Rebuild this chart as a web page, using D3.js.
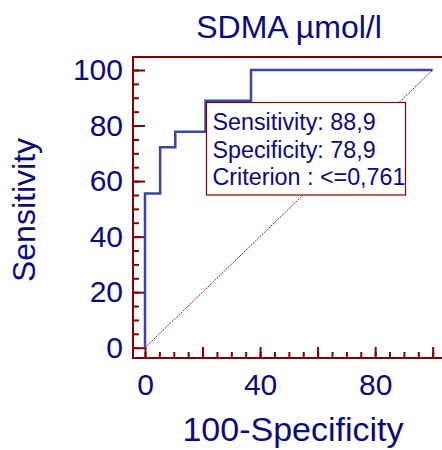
<!DOCTYPE html>
<html>
<head>
<meta charset="utf-8">
<script src="https://cdn.jsdelivr.net/npm/d3@7"></script>
<style>
  html, body { margin: 0; padding: 0; background: #fff; }
  svg { display: block; font-family: "Liberation Sans", Arial, sans-serif; }
</style>
</head>
<body>
<svg id="chart" width="442" height="450"></svg>
<script>
// ROC curve vertices (100-Specificity, Sensitivity), in %
const fpr = [0, 0, 5.26, 5.26, 10.53, 10.53, 21.05, 21.05, 36.84, 36.84, 100];
const tpr = [0, 55.56, 55.56, 72.22, 72.22, 77.78, 77.78, 88.89, 88.89, 100, 100];
const majorTicks = [0, 20, 40, 60, 80, 100];
const xTickLabels = [0, 40, 80];
const minorTicks = d3.range(0, 101, 5);
const boxLines = ["Sensitivity: 88,9", "Specificity: 78,9", "Criterion : <=0,761"];
const titleText = "SDMA µmol/l";
const xLabel = "100-Specificity";
const yLabel = "Sensitivity";

const axisColor = "#800000";
const textColor = "#0a0a80";
const curveColor = "#3a44a6";

const svg = d3.select("#chart");
const x = d3.scaleLinear().domain([0, 100]).range([145, 432.7]);
const y = d3.scaleLinear().domain([0, 100]).range([347.7, 70]);

const axisX = 133, axisY = 358, topY = 57, rightX = 442;

// frame lines
svg.append("line").attr("x1", axisX).attr("x2", rightX).attr("y1", topY).attr("y2", topY)
  .attr("stroke", axisColor).attr("stroke-width", 2);
svg.append("line").attr("x1", axisX).attr("x2", axisX).attr("y1", topY - 1).attr("y2", axisY + 1)
  .attr("stroke", axisColor).attr("stroke-width", 2);
svg.append("line").attr("x1", axisX).attr("x2", rightX).attr("y1", axisY).attr("y2", axisY)
  .attr("stroke", axisColor).attr("stroke-width", 2);

function styleAxis(g) {
  g.select(".domain").remove();
  g.selectAll(".tick line").attr("stroke", axisColor).attr("stroke-width", 2);
  g.selectAll(".tick text").attr("fill", textColor).attr("font-size", 30)
    .attr("font-family", "'Liberation Sans', Arial, sans-serif");
}

// x axis: minor and major ticks pointing up
svg.append("g").attr("transform", `translate(0,${axisY})`)
  .call(d3.axisBottom(x).tickValues(minorTicks).tickSize(-6).tickFormat(""))
  .call(styleAxis);
svg.append("g").attr("transform", `translate(0,${axisY})`)
  .call(d3.axisBottom(x).tickValues(majorTicks).tickSize(-11).tickPadding(16)
    .tickFormat(d => xTickLabels.includes(d) ? d : ""))
  .call(styleAxis);

// y axis: minor and major ticks pointing right
svg.append("g").attr("transform", `translate(${axisX},0)`)
  .call(d3.axisLeft(y).tickValues(minorTicks).tickSize(-6).tickFormat(""))
  .call(styleAxis);
svg.append("g").attr("transform", `translate(${axisX},0)`)
  .call(d3.axisLeft(y).tickValues(majorTicks).tickSize(-12).tickPadding(10))
  .call(styleAxis);

// reference diagonal
svg.append("line")
  .attr("x1", x(0)).attr("y1", y(0)).attr("x2", x(100)).attr("y2", y(100))
  .attr("stroke", axisColor).attr("stroke-width", 1).attr("stroke-dasharray", "1.5,1");

// ROC curve
const pts = fpr.map((d, i) => [d, tpr[i]]);
svg.append("path")
  .attr("d", d3.line().x(d => x(d[0])).y(d => y(d[1]))(pts))
  .attr("fill", "none").attr("stroke", curveColor).attr("stroke-width", 2.5);

// criterion info box
const box = svg.append("g");
box.append("rect").attr("x", 206.5).attr("y", 102.5).attr("width", 199).attr("height", 92.5)
  .attr("fill", "#fff").attr("stroke", axisColor).attr("stroke-width", 1.2);
box.selectAll("text").data(boxLines).join("text")
  .attr("x", 212.5).attr("y", (d, i) => 130 + i * 27.5)
  .attr("font-size", 23.3).attr("fill", textColor).text(d => d);

// title and axis labels
svg.append("text").attr("x", 289).attr("y", 38).attr("text-anchor", "middle")
  .attr("font-size", 32).attr("fill", textColor).text(titleText);
svg.append("text").attr("x", 293).attr("y", 441).attr("text-anchor", "middle")
  .attr("font-size", 34).attr("fill", textColor).text(xLabel);
svg.append("text").attr("transform", "translate(35,210) rotate(-90)").attr("text-anchor", "middle")
  .attr("font-size", 32).attr("fill", textColor).text(yLabel);
</script>
</body>
</html>
